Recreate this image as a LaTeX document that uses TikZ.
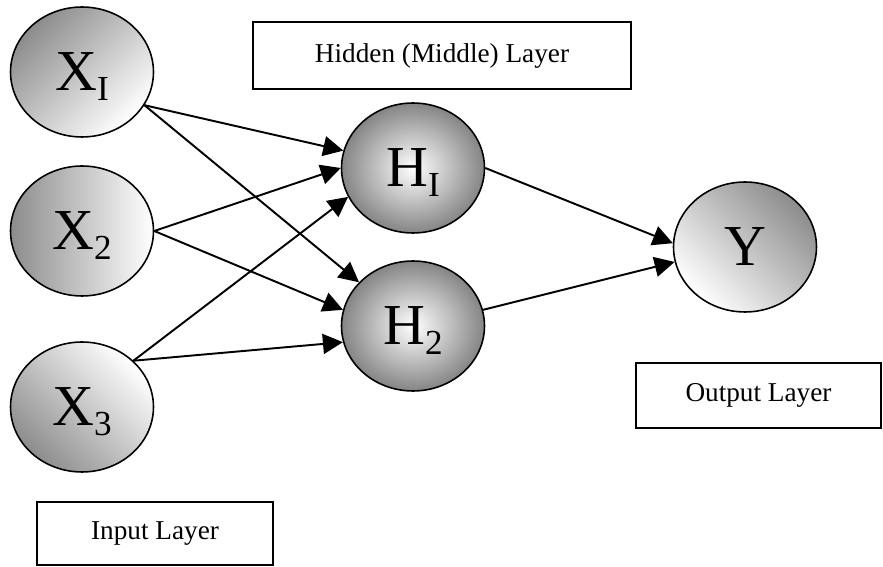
\documentclass[tikz,border=0pt]{standalone}
\usepackage{fontspec}
\setmainfont{Liberation Serif}
\usepackage{tikz}
\usetikzlibrary{shapes.geometric,arrows.meta}

\newcommand{\lsub}[1]{\raisebox{-5.5pt}[0pt][0pt]{\fontsize{20}{20}\selectfont #1}}

\begin{document}
\begin{tikzpicture}[x=0.02cm,y=-0.02cm,
  neuron/.style={ellipse,draw,line width=0.9pt,inner sep=0pt,
    minimum width=2.86cm,minimum height=2.6cm,font=\fontsize{33}{36}\selectfont},
  inp/.style={neuron,top color=black!45,middle color=black!8,bottom color=white},
  hid/.style={neuron,inner color=white,outer color=black!48},
  layer/.style={draw,line width=1.2pt,inner sep=0pt,font=\fontsize{15.5}{18}\selectfont},
  link/.style={line width=1.1pt,-{Triangle[length=4mm,width=4mm]}}]
\useasboundingbox (0,0) rectangle (883,567);
% input layer
\node[inp,shading angle=45] (X1) at (82,72) {X\lsub{I}};
\node[inp,shading angle=90] (X2) at (82,231) {X\lsub{2}};
\node[inp,shading angle=135] (X3) at (82,407) {X\lsub{3}};
% hidden layer
\node[hid] (H1) at (413,168) {H\lsub{I}};
\node[hid] (H2) at (413,326) {H\lsub{2}};
% output
\node[inp,shading angle=-45] (Y) at (745,247) {Y};
% labels
\node[layer,minimum width=7.56cm,minimum height=1.34cm] (hidlbl) at (442,55.5) {Hidden (Middle) Layer};
\node[layer,minimum width=4.9cm,minimum height=1.3cm] (outlbl) at (758.5,395.5) {Output Layer};
\node[layer,minimum width=4.72cm,minimum height=1.26cm] (inlbl) at (155,533.5) {Input Layer};
% connections
\foreach \a/\b in {X1.-28/H1.166,X1.-28/H2.141,X2.east/H1.180,X2.east/H2.167,
  X3.42/H1.204,X3.42/H2.193,H1.east/Y.177,H2.13/Y.192}
  \draw[link] (\a) -- (\b);
\end{tikzpicture}
\end{document}
